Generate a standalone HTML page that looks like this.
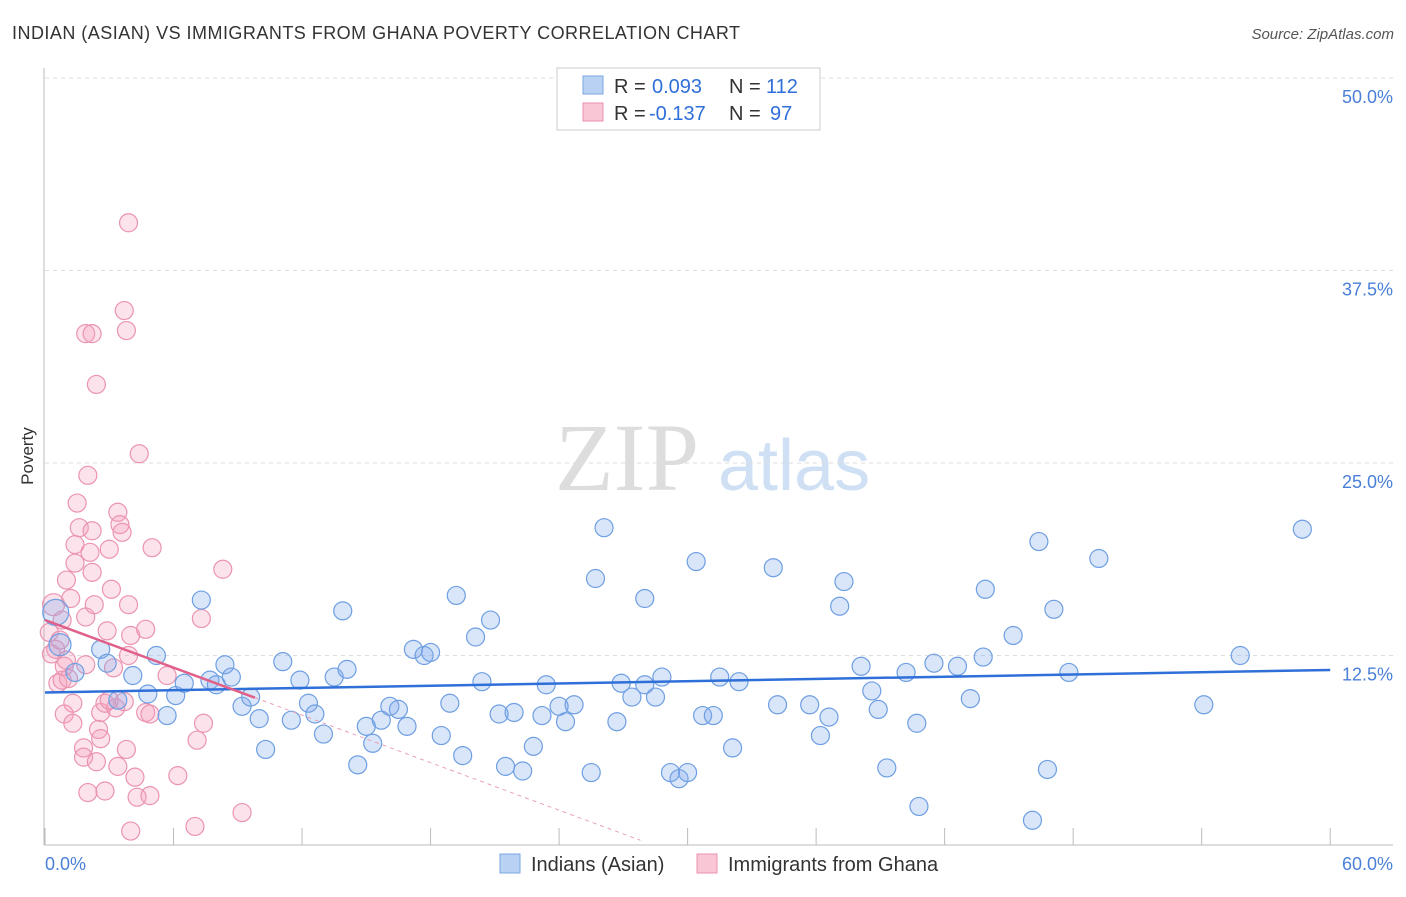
<!DOCTYPE html>
<html><head><meta charset="utf-8"><style>
body{margin:0;background:#fff;font-family:"Liberation Sans",sans-serif;}
svg text{font-family:"Liberation Sans",sans-serif;}
</style></head><body>
<svg id="chart" width="1406" height="892">
<text x="12" y="39" font-size="18" fill="#333" textLength="728" lengthAdjust="spacing">INDIAN (ASIAN) VS IMMIGRANTS FROM GHANA POVERTY CORRELATION CHART</text>
<text x="1394" y="39" font-size="15" fill="#555" font-style="italic" text-anchor="end">Source: ZipAtlas.com</text>
<text x="33" y="456" font-size="17" fill="#333" transform="rotate(-90 33 456)" text-anchor="middle">Poverty</text>
<g>
<text x="555" y="490" font-size="96" fill="#ddd" style="font-family:'Liberation Serif',serif">ZIP</text>
<text x="718" y="490" font-size="72" fill="#cfe0f5">atlas</text>
</g>
<g id="grid"></g>
<g id="axes"></g>
<g id="pinkPts"></g>
<g id="bluePts"></g>
<g id="lines"></g>
<g>
<rect x="557" y="68" width="263" height="62" fill="#fff" stroke="#ccc"/>
<rect x="583" y="76" width="20" height="18" fill="#b9d2f3" stroke="#7aa5e3"/>
<rect x="583" y="103" width="20" height="18" fill="#f8c6d5" stroke="#ea92ae"/>
<text x="614" y="93" font-size="20" fill="#333">R =</text>
<text x="652" y="93" font-size="20" fill="#2f6fd8">0.093</text>
<text x="729" y="93" font-size="20" fill="#333">N =</text>
<text x="766" y="93" font-size="20" fill="#2f6fd8">112</text>
<text x="614" y="120" font-size="20" fill="#333">R =</text>
<text x="649" y="120" font-size="20" fill="#2f6fd8">-0.137</text>
<text x="729" y="120" font-size="20" fill="#333">N =</text>
<text x="770" y="120" font-size="20" fill="#2f6fd8">97</text>
</g>
<g>
<rect x="500" y="854" width="20" height="19" fill="#b9d2f3" stroke="#7aa5e3"/>
<text x="531" y="871" font-size="20" fill="#333">Indians (Asian)</text>
<rect x="697" y="854" width="20" height="19" fill="#f8c6d5" stroke="#ea92ae"/>
<text x="728" y="871" font-size="20" fill="#333">Immigrants from Ghana</text>
</g>
</svg>
<script>
const yTicks=[12.5,25,37.5,50];
const yTickLabels=["12.5%","25.0%","37.5%","50.0%"];
const xTickVals=[0,6,12,18,24,30,36,42,48,54,60];
const xEndLabels=["0.0%","60.0%"];
const blueX=[0.5,0.7,1.4,2.6,2.9,3.4,4.1,4.8,5.2,5.7,6.1,6.5,7.3,7.7,8.0,8.4,8.7,9.2,9.6,10.0,10.3,11.1,11.5,11.9,12.3,12.6,13.0,13.5,13.9,14.1,14.6,15.0,15.3,15.7,16.1,16.5,16.9,17.2,17.7,18.0,18.5,18.9,19.2,19.5,20.1,20.4,20.8,21.2,21.5,21.9,22.3,22.8,23.2,23.4,24.0,24.3,24.7,25.5,25.7,26.1,26.7,26.9,27.4,28.0,28.0,28.5,28.8,29.2,29.6,30.0,30.4,30.7,31.2,31.5,32.1,32.4,34.0,34.2,35.7,36.2,36.6,37.1,37.3,38.1,38.6,38.9,39.3,40.2,40.7,40.8,41.5,42.6,43.2,43.8,43.9,45.2,46.1,46.4,46.8,47.1,47.8,49.2,54.1,55.8,58.7];
const blueY=[15.3,13.2,11.4,12.9,12.0,9.6,11.2,10.0,12.5,8.6,9.9,10.7,16.1,10.9,10.6,11.9,11.1,9.2,9.8,8.4,6.4,12.1,8.3,10.9,9.4,8.7,7.4,11.1,15.4,11.6,5.4,7.9,6.8,8.3,9.2,9.0,7.9,12.9,12.5,12.7,7.3,9.4,16.4,6.0,13.7,10.8,14.8,8.7,5.3,8.8,5.0,6.6,8.6,10.6,9.2,8.2,9.3,4.9,17.5,20.8,8.2,10.7,9.8,16.2,10.6,9.8,11.1,4.9,4.5,4.9,18.6,8.6,8.6,11.1,6.5,10.8,18.2,9.3,9.3,7.3,8.5,15.7,17.3,11.8,10.2,9.0,5.2,11.4,8.1,2.7,12.0,11.8,9.7,12.4,16.8,13.8,1.8,19.9,5.1,15.5,11.4,18.8,9.3,12.5,20.7];
const pinkX=[0.4,0.2,0.5,0.6,0.8,0.9,1.1,0.8,1.0,1.2,0.9,1.3,1.3,1.4,1.4,1.5,1.6,1.9,1.9,1.8,1.8,1.9,2.0,2.1,2.2,2.2,2.3,2.2,2.4,2.4,2.0,2.5,2.6,2.8,2.8,2.9,3.0,3.1,3.2,3.3,3.4,3.4,3.5,3.6,3.7,3.8,3.8,3.9,3.9,4.0,4.2,4.3,4.4,4.7,4.7,4.9,4.9,5.0,4.0,5.7,6.2,7.0,7.1,7.3,7.4,8.3,9.2,3.9,3.7,3.0,2.6,0.3,0.7,1.0];
const pinkY=[15.8,14.0,12.9,10.7,10.9,11.8,11.0,14.8,17.4,16.2,8.7,9.4,8.1,18.5,19.7,22.4,20.8,15.0,11.9,6.5,5.9,33.4,24.2,19.2,20.6,17.9,15.8,33.4,30.1,5.6,3.6,7.7,8.8,9.4,3.7,14.1,19.4,16.8,11.7,9.1,5.3,21.8,21.0,20.5,34.9,33.6,6.4,40.6,15.8,13.8,4.6,3.3,25.6,14.2,8.8,8.7,3.4,19.5,1.1,11.2,4.7,1.4,7.0,14.9,8.1,18.1,2.3,12.5,9.5,9.6,7.1,12.6,13.5,12.2];
const blueTrend=[10.1,11.56];
const pinkTrend=[14.8,0.5];
const pinkTrendEnd=27.8, pinkSolidEnd=9.8;
const X=v=>45+v*21.42, Y=v=>848-v*15.4;
const NS="http://www.w3.org/2000/svg";
function mk(tag,attrs,parent){const e=document.createElementNS(NS,tag);for(const k in attrs)e.setAttribute(k,attrs[k]);document.getElementById(parent).appendChild(e);return e;}
yTicks.forEach((t,i)=>{
 const l=mk('line',{x1:45,x2:1393,y1:Y(t),y2:Y(t),stroke:'#ddd','stroke-dasharray':'4,4'},'grid');
 
 
 const tx=mk('text',{x:1393,y:Y(t)+25,'font-size':18,fill:'#4a7fd8','text-anchor':'end'},'grid');
 tx.textContent=yTickLabels[i];
 
 
});
const ax1=mk('line',{x1:44,x2:44,y1:68,y2:845,stroke:'#bbb'},'axes');


const ax2=mk('line',{x1:44,x2:1393,y1:845,y2:845,stroke:'#bbb'},'axes');


xTickVals.forEach(v=>{
 const t=mk('line',{x1:X(v),x2:X(v),y1:828,y2:845,stroke:'#bbb'},'axes');
 
 
});
const xl0=mk('text',{x:45,y:870,'font-size':18,fill:'#4a7fd8'},'axes');xl0.textContent=xEndLabels[0];


const xl1=mk('text',{x:1393,y:870,'font-size':18,fill:'#4a7fd8','text-anchor':'end'},'axes');xl1.textContent=xEndLabels[1];


pinkX.forEach((x,i)=>{
 const c=mk('circle',{cx:X(x),cy:Y(pinkY[i]),r:(i===0?11:9),fill:'rgba(244,160,188,0.3)',stroke:'#eb94b0','stroke-width':1.2},'pinkPts');
 
 
});
blueX.forEach((x,i)=>{
 const c=mk('circle',{cx:X(x),cy:Y(blueY[i]),r:(i===0?13:(i===1?11:9)),fill:'rgba(130,170,235,0.3)',stroke:'#6e9fe2','stroke-width':1.2},'bluePts');
 
 
});
const bl=mk('line',{x1:X(0),y1:Y(blueTrend[0]),x2:X(60),y2:Y(blueTrend[1]),stroke:'#2f6fd8','stroke-width':2.5},'lines');


const py=x=>pinkTrend[0]+(pinkTrend[1]-pinkTrend[0])*x/pinkTrendEnd;
const pl=mk('line',{x1:X(0),y1:Y(pinkTrend[0]),x2:X(pinkSolidEnd),y2:Y(py(pinkSolidEnd)),stroke:'#e0608a','stroke-width':2.5},'lines');


const pd=mk('line',{x1:X(pinkSolidEnd),y1:Y(py(pinkSolidEnd)),x2:X(pinkTrendEnd),y2:Y(pinkTrend[1]),stroke:'#eaa0b8','stroke-width':1,'stroke-dasharray':'4,4'},'lines');


</script>
</body></html>
